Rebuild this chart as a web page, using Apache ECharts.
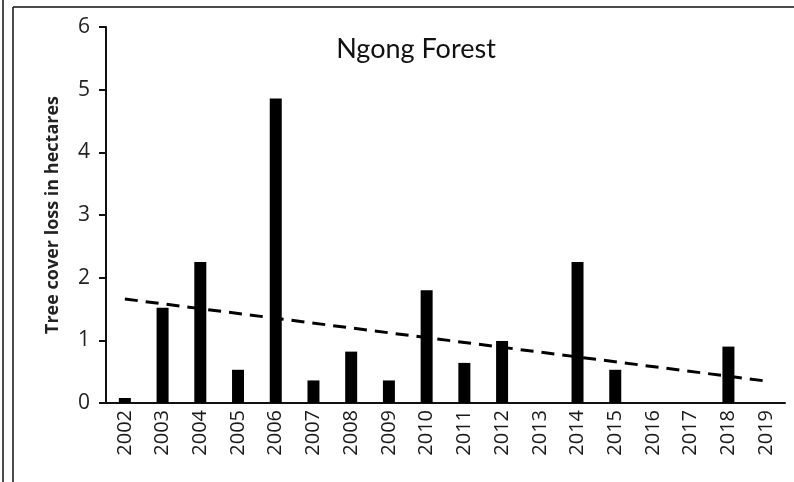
<!DOCTYPE html>
<html>
<head>
<meta charset="utf-8">
<script src="https://cdn.jsdelivr.net/npm/echarts@6/dist/echarts.min.js"></script>
<style>
html,body{margin:0;padding:0;background:#fff;}
#chart{width:794px;height:482px;}
</style>
</head>
<body>
<div id="chart"></div>
<script>
const years = ['2002','2003','2004','2005','2006','2007','2008','2009','2010','2011','2012','2013','2014','2015','2016','2017','2018','2019'];
const treeCoverLoss = [0.08, 1.52, 2.25, 0.53, 4.86, 0.36, 0.82, 0.36, 1.80, 0.64, 0.99, 0, 2.25, 0.53, 0, 0, 0.90, 0];
// linear trendline: value at first and last year
const trendline = [1.66, null, null, null, null, null, null, null, null, null, null, null, null, null, null, null, null, 0.35];
const yTicks = [0, 1, 2, 3, 4, 5, 6];
const chartTitle = 'Ngong Forest';
const yAxisTitle = 'Tree cover loss in hectares';

const chart = echarts.init(document.getElementById('chart'), null, {renderer: 'canvas'});
chart.setOption({
  animation: false,
  backgroundColor: '#fff',
  title: {
    text: chartTitle,
    left: 411, top: 31, textAlign: 'center',
    textStyle: {fontFamily: 'Lato', fontWeight: 'normal', fontSize: 27, color: '#111'}
  },
  grid: {left: 106, right: 9, top: 27, bottom: 79, containLabel: false},
  graphic: [
    {type: 'line', shape: {x1: 3, y1: 0, x2: 3, y2: 482}, style: {stroke: '#111', lineWidth: 1.5}},
    {type: 'line', shape: {x1: 13, y1: 7, x2: 13, y2: 482}, style: {stroke: '#111', lineWidth: 1.5}},
    {type: 'line', shape: {x1: 13, y1: 7, x2: 794, y2: 7}, style: {stroke: '#111', lineWidth: 1.5}}
  ],
  xAxis: {
    type: 'category',
    data: years,
    boundaryGap: true,
    axisLine: {lineStyle: {color: '#111', width: 2}},
    axisTick: {alignWithLabel: true, length: 6, lineStyle: {color: '#111', width: 2}},
    axisLabel: {rotate: 90, fontFamily: 'Open Sans', fontSize: 20, color: '#1a1a1a', margin: 7, interval: 0}
  },
  yAxis: {
    type: 'value',
    min: yTicks[0], max: yTicks[yTicks.length - 1], interval: 1,
    name: yAxisTitle,
    nameLocation: 'middle',
    nameGap: 44,
    nameRotate: 90,
    nameTextStyle: {fontFamily: 'Open Sans', fontWeight: 'bold', fontSize: 18, color: '#222'},
    axisLine: {show: true, lineStyle: {color: '#111', width: 2}},
    axisTick: {show: true, length: 7, lineStyle: {color: '#111', width: 2}},
    splitLine: {show: false},
    axisLabel: {fontFamily: 'Open Sans', fontSize: 21, color: '#222', margin: 16}
  },
  series: [
    {
      type: 'bar',
      data: treeCoverLoss,
      barWidth: 12,
      itemStyle: {color: '#000'}
    },
    {
      type: 'line',
      data: trendline,
      connectNulls: true,
      symbol: 'none',
      lineStyle: {color: '#000', width: 3, type: [13, 8]},
      z: 5
    }
  ]
});
</script>
</body>
</html>
